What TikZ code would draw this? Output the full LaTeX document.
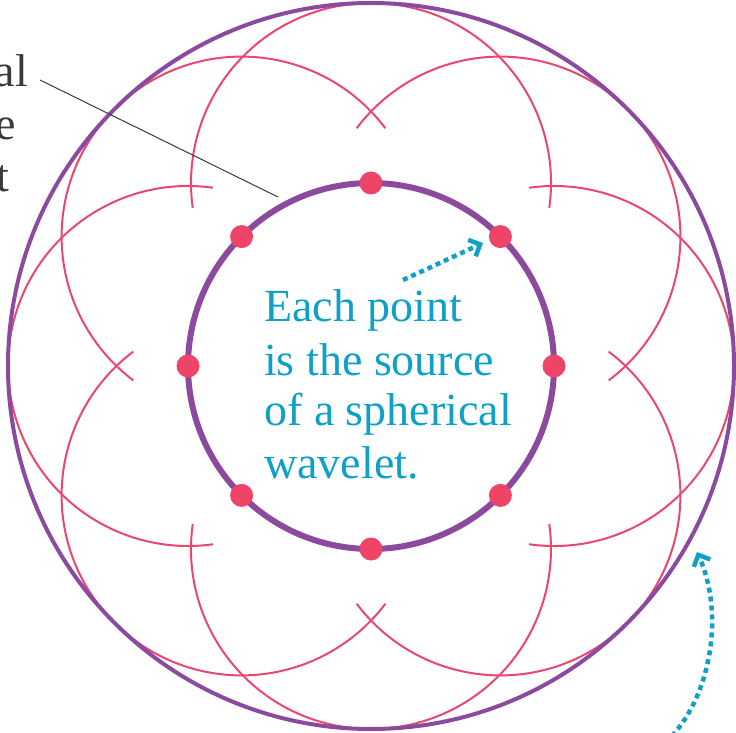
\documentclass[tikz,border=0pt]{standalone}
\usepackage{fontspec}
\setmainfont{Liberation Serif}
\newfontfamily\capfont{Liberation Serif}
\usetikzlibrary{arrows.meta}
\definecolor{wfpurple}{HTML}{8C4A9E}
\definecolor{wfpink}{HTML}{E94770}
\definecolor{wfdot}{HTML}{EE4467}
\definecolor{wfcyan}{HTML}{0FA0C8}
\definecolor{wfgray}{HTML}{3A3A3A}
\begin{document}
\begin{tikzpicture}[x=1pt,y=1pt,
  wavelet/.style={draw=wfpink, line width=2pt},
  innerfront/.style={draw=wfpurple, line width=6pt},
  outerfront/.style={draw=wfpurple, line width=4pt},
  srcdot/.style={circle, fill=wfdot, minimum size=23pt, inner sep=0pt},
  cyantext/.style={text=wfcyan, font=\capfont\fontsize{46}{52}\selectfont, anchor=base west, inner sep=0pt},
  graytext/.style={text=wfgray, font=\capfont\fontsize{46}{52}\selectfont, anchor=base east, inner sep=0pt},
  leader/.style={draw=wfgray, line width=1pt},
  hint/.style={draw=wfcyan, line width=4.5pt, dash pattern=on 5pt off 4pt,
    -{Straight Barb[length=9pt,width=18pt]}}]
\useasboundingbox (0,0) rectangle (736,732);
\coordinate (C) at (371,366);
% wavelets
\foreach \k in {0,...,7}{
  \pgfmathsetmacro\th{45*\k}
  \pgfmathsetmacro\sx{371+183*cos(\th)+180*cos(\th-98)}
  \pgfmathsetmacro\sy{366+183*sin(\th)+180*sin(\th-98)}
  \draw[wavelet] (\sx,\sy) arc[start angle=\th-98, end angle=\th+98, radius=180];
}
% wavefronts
\draw[outerfront] (C) circle[radius=363];
\draw[innerfront] (C) circle[radius=183];
% sources
\foreach \k in {0,...,7}{
  \node[srcdot] (d\k) at ([shift={(45*\k:183)}]C) {};
}
% texts
\node[cyantext] (t1) at (264,410) {Each point};
\node[cyantext] (t2) at (264,357) {is the source};
\node[cyantext] (t3) at (264,307) {of a spherical};
\node[cyantext] (t4) at (264,254) {wavelet.};
\node[graytext] (g1) at (28,645) {al};
\node[graytext] (g2) at (16,592) {e};
\node[graytext] (g3) at (9,540) {t};
% leader
\coordinate (ls) at (40,652);
\coordinate (le) at (278,535);
\draw[leader] (ls) -- (le);
% hint arrows
\coordinate (a1s) at (403,452);
\coordinate (a1e) at (483,489);
\draw[hint] (a1s) -- (a1e);
\coordinate (a2s) at (672,-4);
\coordinate (a2e) at (697,180);
\draw[hint] (a2s) .. controls (712,40) and (724,120) .. (a2e);
\end{tikzpicture}
\end{document}
